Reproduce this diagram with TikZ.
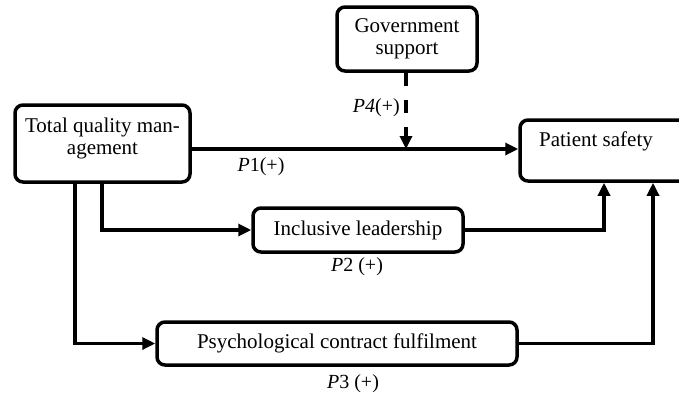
\documentclass[tikz,border=0pt]{standalone}
\usepackage{fontspec}
\setmainfont{Liberation Serif}
\usetikzlibrary{arrows.meta}
\begin{document}
\begin{tikzpicture}[x=1pt,y=-1pt,
  box/.style={draw, line width=3.5pt, rounded corners=8pt, inner sep=0pt},
  txt/.style={font=\fontsize{21}{22}\selectfont, align=center, inner sep=0pt},
  lbl/.style={font=\fontsize{20}{22}\selectfont, inner sep=0pt},
  conn/.style={line width=3.2pt, -{Triangle[length=13pt,width=12pt]}}]
\clip (0,0) rectangle (679,394);
\fill[white] (0,0) rectangle (679,394);
% boxes
\node[box, minimum width=175pt, minimum height=77pt] (tqm) at (102.5,143.5) {};
\node[txt] (tqmt) at (102.5,138) {Total quality man-\\agement};
\node[box, minimum width=140pt, minimum height=64pt, txt] (gov) at (407,39) {Government\\support};
\node[box, minimum width=170pt, minimum height=61pt] (ps) at (605,150.5) {};
\node[txt] (pst) at (596,141) {Patient safety};
\node[box, minimum width=210pt, minimum height=44pt, txt] (il) at (358,230) {Inclusive leadership};
\node[box, minimum width=360pt, minimum height=43pt, txt] (pc) at (337,343.5) {Psychological contract fulfilment};
% connectors
\coordinate (m) at (406,149);
\draw[conn] (tqm.east |- 0,149) -- (ps.west |- 0,149);
\draw[line width=3.2pt, dash pattern=on 13pt off 14pt, -{Triangle[length=13pt,width=12pt]}] (gov.south -| m) -- (m);
\draw[conn] (102,0 |- tqm.south) -- (102,230) -- (il.west);
\draw[conn] (75,0 |- tqm.south) -- (75,343.5) -- (pc.west);
\draw[conn] (il.east) -- (604,230) -- (604,0 |- ps.south);
\draw[conn] (pc.east) -- (653,343.5) -- (653,0 |- ps.south);
% labels
\node[lbl] (p1) at (261,167) {\textit{P}1(+)};
\node[lbl, anchor=east] (p4) at (400,108) {\textit{P4}(+)};
\node[lbl] (p2) at (357,267) {\textit{P}2 (+)};
\node[lbl] (p3) at (353,384) {\textit{P}3 (+)};
\end{tikzpicture}
\end{document}
